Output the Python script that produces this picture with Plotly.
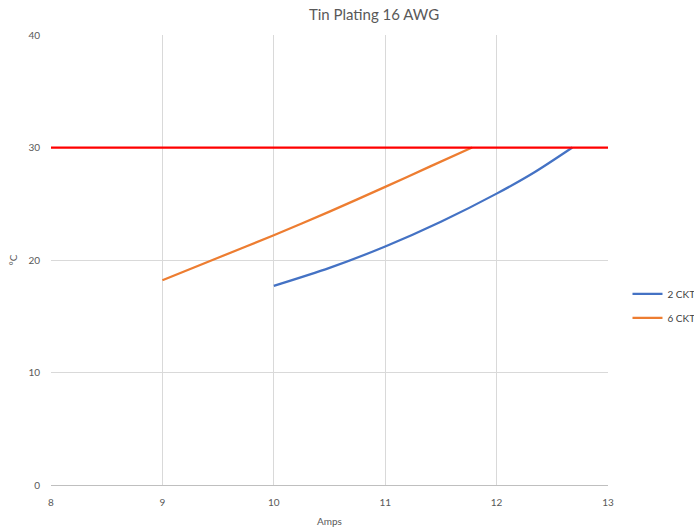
import plotly.graph_objects as go

# Current (A) vs temperature rise (°C) for 16 AWG tin-plated terminals
amps_2ckt = [10.0, 10.5, 11.0, 11.5, 12.0, 12.34, 12.68]
temp_2ckt = [17.7, 19.3, 21.2, 23.4, 25.9, 27.8, 30.0]

amps_6ckt = [9.0, 9.5, 10.0, 10.5, 11.0, 11.4, 11.78]
temp_6ckt = [18.2, 20.2, 22.2, 24.3, 26.5, 28.3, 30.0]

limit_x = [8, 13]
limit_y = [30, 30]

x_ticks = [8, 9, 10, 11, 12, 13]
y_ticks = [0, 10, 20, 30, 40]

font_family = "Lato, Open Sans, sans-serif"
text_grey = "#595959"

fig = go.Figure()
fig.add_trace(go.Scatter(
    x=amps_2ckt, y=temp_2ckt, name="2 CKT", mode="lines", legendgroup="a",
    line=dict(color="#4472C4", width=2.25, shape="spline", smoothing=0.8),
))
fig.add_trace(go.Scatter(
    x=amps_6ckt, y=temp_6ckt, name="6 CKT", mode="lines", legendgroup="b",
    line=dict(color="#ED7D31", width=2.25, shape="spline", smoothing=0.8),
))
fig.add_trace(go.Scatter(
    x=limit_x, y=limit_y, mode="lines", showlegend=False,
    line=dict(color="#FF0000", width=2.25), hoverinfo="skip",
))

fig.update_layout(
    width=694, height=529,
    margin=dict(l=51, r=86, t=35, b=44, autoexpand=False),
    paper_bgcolor="white", plot_bgcolor="white",
    font=dict(family=font_family, color=text_grey, size=10),
    title=dict(text="Tin Plating 16 AWG", x=0.539, xanchor="center",
               y=0.972, yanchor="middle",
               font=dict(size=15, color=text_grey, family=font_family)),
    legend=dict(x=1.035, y=0.398, xanchor="left", yanchor="middle",
                font=dict(size=10, color="#404040"),
                traceorder="grouped", tracegroupgap=5,
                itemwidth=30),
    xaxis=dict(range=[8, 13], tickvals=x_ticks, showgrid=True,
               gridcolor="#D9D9D9", gridwidth=1, zeroline=False,
               showline=True, linecolor="#BFBFBF", linewidth=1,
               ticks="", ticklen=0, ticklabelstandoff=8,
               title=dict(text="Amps", font=dict(size=10, color=text_grey),
                          standoff=10)),
    yaxis=dict(range=[0, 40], tickvals=y_ticks, showgrid=True,
               gridcolor="#D9D9D9", gridwidth=1, zeroline=False,
               showline=False, ticks="", ticklen=0, ticklabelstandoff=10,
               title=dict(text="°C", font=dict(size=10, color=text_grey),
                          standoff=8)),
)

fig.write_html("out.html")
